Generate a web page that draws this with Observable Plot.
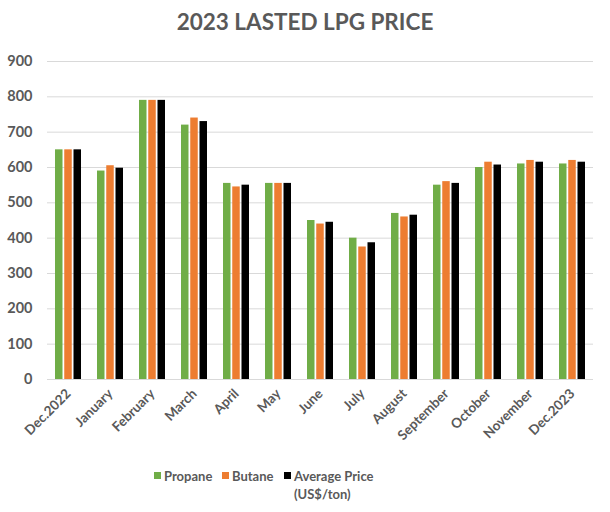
<!DOCTYPE html>
<html>
<head>
<meta charset="utf-8">
<script src="https://cdn.jsdelivr.net/npm/d3@7"></script>
<script src="https://cdn.jsdelivr.net/npm/@observablehq/plot@0.6"></script>
<style>
  html, body { margin: 0; padding: 0; background: #fff; }
  body { width: 610px; height: 512px; overflow: hidden; font-family: Lato, "Open Sans", sans-serif; }
  #title { height: 44px; box-sizing: border-box; padding-top: 8px; text-align: center; font-weight: 700; font-size: 22.5px; color: #595959; line-height: 28px; }
  #legend { position: relative; height: 53px; font-weight: 700; font-size: 13px; color: #595959; }
  .item { position: absolute; top: 8px; display: flex; align-items: flex-start; line-height: 18px; }
  .sw { width: 7px; height: 7px; margin-top: 5px; margin-right: 3px; }
</style>
</head>
<body>
<div id="title">2023 LASTED LPG PRICE</div>
<div id="chart"></div>
<div id="legend"></div>
<script>
const months = ["Dec.2022", "January", "February", "March", "April", "May", "June", "July", "August", "September", "October", "November", "Dec.2023"];
const propane = [650, 590, 790, 720, 555, 555, 450, 400, 470, 550, 600, 610, 610];
const butane  = [650, 605, 790, 740, 545, 555, 440, 375, 460, 560, 615, 620, 620];
const average = [650, 598, 790, 730, 550, 555, 445, 387, 465, 555, 607, 615, 615];
const seriesNames = ["Propane", "Butane", "Average Price\n(US$/ton)"];
const seriesColors = ["#70AD47", "#ED7D31", "#000000"];
const yTicks = [0, 100, 200, 300, 400, 500, 600, 700, 800, 900];

const step = 9.25;
const chart = Plot.plot({
  width: 610,
  height: 415,
  marginTop: 17,
  marginBottom: 80,
  marginLeft: 47,
  marginRight: 17,
  style: { fontFamily: "Lato, 'Open Sans', sans-serif", background: "#fff" },
  x: { domain: months, paddingInner: 0.38, paddingOuter: 0.19, label: null },
  y: { domain: [0, 900], label: null },
  marks: [
    Plot.ruleY(yTicks, { stroke: "#d9d9d9", strokeWidth: 1 }),
    Plot.barY(months, { x: months, y: propane, fill: seriesColors[0], insetLeft: 0, insetRight: 2 * step }),
    Plot.barY(months, { x: months, y: butane, fill: seriesColors[1], insetLeft: step, insetRight: step }),
    Plot.barY(months, { x: months, y: average, fill: seriesColors[2], insetLeft: 2 * step, insetRight: 0 }),
    Plot.axisY({ ticks: yTicks, tickSize: 0, tickPadding: 15, fontSize: 14.5, fontWeight: 700, fill: "#595959", label: null }),
    Plot.axisX({ tickSize: 0, tickPadding: 12, tickRotate: -45, fontSize: 13.5, fontWeight: 700, fill: "#595959", label: null })
  ]
});
document.getElementById("chart").appendChild(chart);

const legend = document.getElementById("legend");
const lefts = [154, 222, 284];
seriesNames.forEach((name, i) => {
  const it = document.createElement("div");
  it.className = "item";
  it.style.left = lefts[i] + "px";
  const sw = document.createElement("div");
  sw.className = "sw";
  sw.style.background = seriesColors[i];
  const tx = document.createElement("div");
  tx.innerHTML = name.replace("\n", "<br>");
  it.appendChild(sw);
  it.appendChild(tx);
  legend.appendChild(it);
});
</script>
</body>
</html>
